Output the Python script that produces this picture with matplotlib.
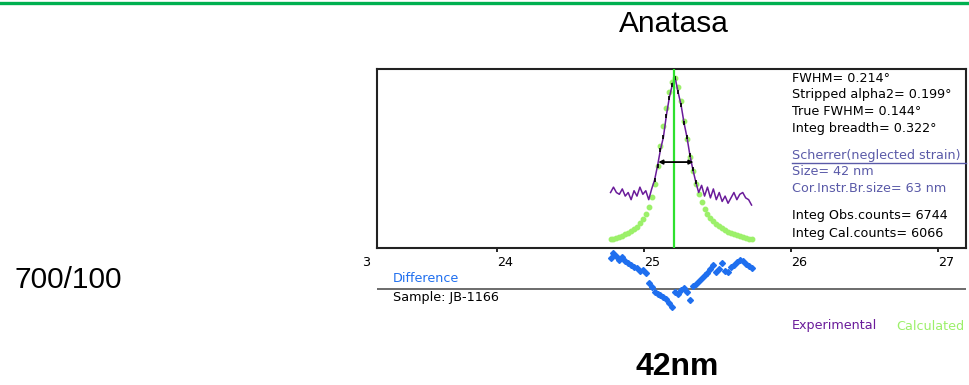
import matplotlib.pyplot as plt
from matplotlib.lines import Line2D

W, H, DPI = 969, 385, 100

# 2-theta grid (degrees) shared by the profile series
two_theta = [24.77, 24.79, 24.81, 24.83, 24.85, 24.87, 24.89, 24.91, 24.93, 24.95,
             24.97, 24.99, 25.01, 25.03, 25.05, 25.07, 25.09, 25.11, 25.13, 25.15,
             25.17, 25.19, 25.21, 25.23, 25.25, 25.27, 25.29, 25.31, 25.33, 25.35,
             25.37, 25.39, 25.41, 25.43, 25.45, 25.47, 25.49, 25.51, 25.53, 25.55,
             25.57, 25.59, 25.61, 25.63, 25.65, 25.67, 25.69, 25.71, 25.73]

experimental = [31, 34, 31, 30, 33, 29, 31, 27, 32, 29,
                34, 30, 32, 27, 33, 38, 46, 55, 62, 74,
                84, 91, 95, 87, 80, 70, 62, 52, 44, 37,
                31, 35, 29, 34, 28, 33, 27, 31, 26, 29,
                25, 28, 31, 27, 30, 31, 28, 27, 24]

calculated = [4.8, 5.2, 5.8, 6.3, 6.9, 7.6, 8.4, 9.3, 10.5, 12.0,
              13.8, 16.0, 19.0, 23.0, 28.5, 36, 46, 57, 68, 78,
              87, 93, 95, 90, 82, 71, 61, 51, 43, 36,
              30, 25.5, 22, 19, 17, 15, 13.5, 12.2, 11, 10,
              9.2, 8.4, 7.7, 7.1, 6.6, 6.1, 5.7, 5.3, 5.0]

difference = [31, 36, 33, 29, 32, 28, 26, 24, 22, 21,
              18, 19, 16, 6, 2, -3, -5, -6, -8, -10,
              -14, -18, -3, -5, -1, 1, -3, -11, 3, 5,
              8, 11, 14, 16, 20, 24, 17, 20, 26, 18,
              17, 22, 24, 27, 29, 28, 25, 23, 21]

peak_pos = 25.205
fwhm_left, fwhm_right, fwhm_level = 25.095, 25.335, 48

xticks = [24, 25, 26, 27]

info_black = ["FWHM= 0.214°", "Stripped alpha2= 0.199°", "True FWHM= 0.144°",
              "Integ breadth= 0.322°"]
info_blue = ["Size= 42 nm", "Cor.Instr.Br.size= 63 nm"]
info_counts = ["Integ Obs.counts= 6744", "Integ Cal.counts= 6066"]

PURPLE = "#6a1b9a"
LGREEN = "#9cf06a"
BLUE = "#1f6fef"
SLATE = "#5a5aa8"
FS = 9.2

plt.rcParams['font.family'] = ['DejaVu Sans']
fig = plt.figure(figsize=(W / DPI, H / DPI), dpi=DPI)


def fx(px):
    return px / W


def fy(py):
    return 1 - py / H


# green rule at the very top
fig.add_artist(Line2D([0, 1], [fy(3), fy(3)], color="#00b050", lw=2.4))

ax = fig.add_axes([fx(377), fy(248), fx(966) - fx(377), fy(69) - fy(248)])
ax.set_xlim(23.18, 27.19)
ax.set_ylim(0, 100)

ax.plot(two_theta, calculated, linestyle="none", marker="o", ms=3.2,
        color=LGREEN, zorder=2)
ax.plot(two_theta, experimental, color=PURPLE, lw=1.1, zorder=3)
# black point marks on the peak flanks
ax.plot(two_theta[15:30], experimental[15:30], linestyle="none", marker="|",
        ms=3, mew=1.2, color="black", zorder=3)
ax.axvline(peak_pos, color="#2ee02e", lw=1.6, zorder=4)
ax.annotate("", xy=(fwhm_left, fwhm_level), xytext=(fwhm_right, fwhm_level),
            arrowprops=dict(arrowstyle="<|-|>", color="black", lw=1.3,
                            mutation_scale=6, shrinkA=0, shrinkB=0), zorder=5)

ax.set_yticks([])
ax.set_xticks(xticks)
ax.set_xticklabels([str(t) for t in xticks], fontsize=FS)
plt.setp(ax.get_xticklabels(), ha="left")
ax.tick_params(axis="x", direction="out", length=3, width=1.2, pad=3)
for s in ax.spines.values():
    s.set_linewidth(1.5)
    s.set_color("#222222")

# difference strip below the plot box
axd = fig.add_axes([fx(377), fy(320), fx(966) - fx(377), fy(248) - fy(320)],
                   sharex=ax)
axd.set_ylim(-31, 41)
axd.axis("off")
axd.axhline(0, color="#444444", lw=1.1)
axd.plot(two_theta, difference, linestyle="none", marker="D", ms=3.0,
         color=BLUE)

# text annotations
fig.text(fx(366), fy(262), "3", fontsize=FS, ha="center", va="center")
y = 78
for t in info_black:
    fig.text(fx(792), fy(y), t, fontsize=FS, va="center")
    y += 16.8
fig.text(fx(792), fy(155), "Scherrer(neglected strain)", fontsize=FS,
         va="center", color=SLATE)
fig.add_artist(Line2D([fx(792), fx(966)], [fy(163), fy(163)], color=SLATE, lw=1))
y = 172
for t in info_blue:
    fig.text(fx(792), fy(y), t, fontsize=FS, va="center", color=SLATE)
    y += 16.5
y = 216
for t in info_counts:
    fig.text(fx(792), fy(y), t, fontsize=FS, va="center")
    y += 18

fig.text(fx(393), fy(278), "Difference", fontsize=FS, va="center", color=BLUE)
fig.text(fx(393), fy(298), "Sample: JB-1166", fontsize=FS, va="center")
fig.text(fx(792), fy(326), "Experimental", fontsize=FS, va="center",
         color=PURPLE)
fig.text(fx(896), fy(326), "Calculated", fontsize=FS, va="center",
         color=LGREEN)

fig.text(fx(674), fy(24), "Anatasa", fontsize=21.5, ha="center", va="center",
         family="Liberation Sans")
fig.text(fx(68), fy(280), "700/100", fontsize=21.5, ha="center", va="center",
         family="Liberation Sans")
fig.text(fx(677), fy(367), "42nm", fontsize=23, ha="center", va="center",
         family="Liberation Sans", weight="bold")

fig.savefig("out.png", dpi=DPI)
